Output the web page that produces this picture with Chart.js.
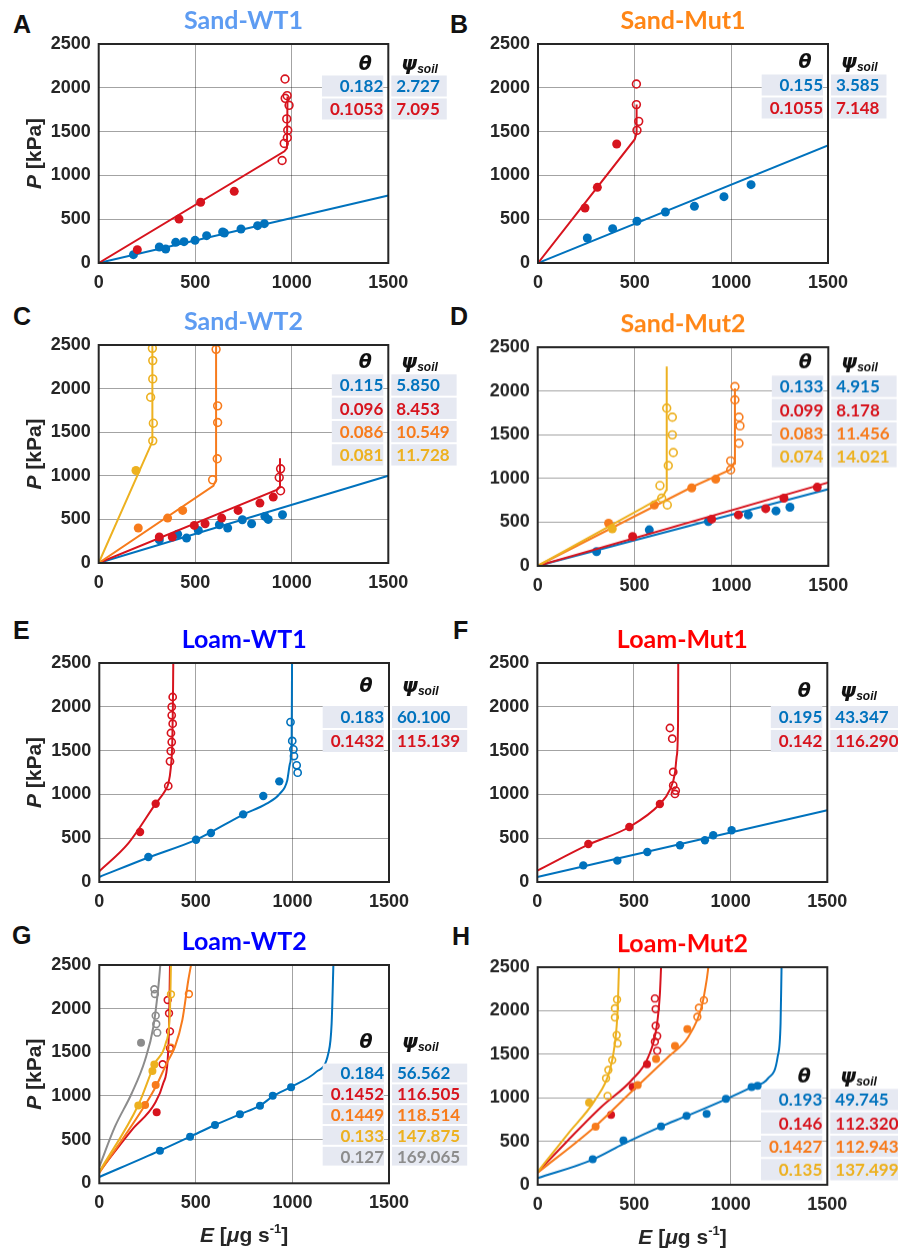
<!DOCTYPE html>
<html>
<head>
<meta charset="utf-8">
<script src="https://cdn.jsdelivr.net/npm/chart.js@4.4.1/dist/chart.umd.min.js"></script>
<style>
  body { margin: 0; background: #fff; width: 898px; height: 1251px; position: relative; overflow: hidden; }
  .panel { position: absolute; }
  .letter { position: absolute; font: bold 25px "Liberation Sans", Arial, sans-serif; color: #111; line-height: 1; }
</style>
</head>
<body>
<div class="letter" style="left:13px;top:12px">A</div>
<div class="letter" style="left:450px;top:12px">B</div>
<div class="letter" style="left:13px;top:304px">C</div>
<div class="letter" style="left:450px;top:304px">D</div>
<div class="letter" style="left:13px;top:618px">E</div>
<div class="letter" style="left:453px;top:618px">F</div>
<div class="letter" style="left:12px;top:923px">G</div>
<div class="letter" style="left:452px;top:924px">H</div>
<script>
// ---- data: [E, P] pairs ----
// A  Sand-WT1
const aBlueDots = [[180,95],[314,183],[347,160],[399,236],[442,244],[499,259],[559,312],[642,354],[651,342],[737,388],[823,426],[858,449]];
const aBlueFit = [[0,0],[1500,770]];
const aRedDots = [[200,152],[416,502],[528,693],[702,818]];
const aRedRings = [[965,2100],[976,1910],[966,1880],[986,1800],[974,1645],[979,1515],[977,1430],[961,1365],[950,1170]];
const aRedFit = [[0,0],[962,1275],[975,1310],[978,1900]];
const aTheta = ["0.182", "0.1053"];
const aPsi = ["2.727", "7.095"];

// B  Sand-Mut1
const bBlueDots = [[255,285],[386,392],[512,476],[659,582],[809,647],[962,757],[1102,894]];
const bBlueFit = [[0,0],[1500,1343]];
const bRedDots = [[243,628],[307,864],[407,1358]];
const bRedRings = [[509,2043],[509,1808],[521,1617],[512,1514]];
const bRedFit = [[0,0],[500,1410],[510,1480],[510,1810]];
const bTheta = ["0.155", "0.1055"];
const bPsi = ["3.585", "7.148"];

// C  Sand-WT2
const cBlueDots = [[314,265],[409,330],[455,286],[516,374],[625,439],[668,401],[744,496],[792,450],[861,534],[878,500],[952,553]];
const cBlueFit = [[0,0],[1500,1000]];
const cRedDots = [[314,298],[381,298],[495,431],[551,450],[637,515],[722,603],[835,687],[904,756]];
const cRedRings = [[942,828],[935,981],[942,1080]];
const cRedFit = [[0,0],[925,840],[938,870],[939,1200]];
const cOrangeDots = [[205,401],[357,515],[435,603]];
const cOrangeRings = [[608,2450],[616,1802],[616,1611],[614,1195],[590,954]];
const cOrangeFit = [[0,0],[594,885],[608,954],[608,2500]];
const cYellowDots = [[193,1061]];
const cYellowRings = [[278,2462],[280,2321],[280,2111],[269,1901],[283,1603],[280,1401]];
const cYellowFit = [[0,0],[278,1393],[278,2500]];
const cTheta = ["0.115", "0.096", "0.086", "0.081"];
const cPsi = ["5.850", "8.453", "10.549", "11.728"];

// D  Sand-Mut2
const dBlueDots = [[304,164],[576,412],[881,507],[1087,583],[1230,629],[1302,671]];
const dBlueFit = [[0,0],[1500,877]];
const dRedDots = [[490,335],[898,534],[1036,583],[1177,655],[1271,774],[1443,899]];
const dRedFit = [[0,0],[1500,953]];
const dOrangeDots = [[366,488],[602,697],[795,892],[919,991]];
const dOrangeRings = [[1018,2050],[1018,1898],[1039,1700],[1044,1601],[1039,1402],[996,1200],[996,1098]];
const dOrangeFit = [[0,0],[795,900],[993,1098],[1015,1170],[1018,2030]];
const dYellowDots = [[385,423]];
const dYellowRings = [[666,1803],[695,1700],[695,1498],[700,1296],[674,1147],[631,918],[640,774],[669,697]];
const dYellowFit = [[0,0],[645,790],[665,870],[666,2280]];
const dTheta = ["0.133", "0.099", "0.083", "0.074"];
const dPsi = ["4.915", "8.178", "11.456", "14.021"];

// E  Loam-WT1
const eBlueDots = [[254,285],[501,483],[578,559],[745,772],[849,982],[932,1149]];
const eBlueRings = [[990,1826],[999,1610],[1005,1514],[1008,1438],[1022,1332],[1027,1248]];
const eBlueFit = [[0,57],[254,280],[500,480],[745,770],[866,894],[935,1009],[973,1160],[987,1350],[996,1620],[998,2500]];
const eRedDots = [[211,571],[292,894]];
const eRedRings = [[357,1096],[366,1377],[370,1495],[375,1598],[371,1701],[380,1807],[375,1903],[375,1998],[380,2112]];
const eRedFit = [[0,122],[150,440],[292,894],[340,1040],[357,1120],[370,1300],[378,1600],[381,2000],[383,2500]];
const eTheta = ["0.183", "0.1432"];
const ePsi = ["60.100", "115.139"];

// F  Loam-Mut1
const fBlueDots = [[238,190],[414,244],[569,342],[738,419],[867,476],[910,533],[1005,590]];
const fBlueFit = [[0,57],[1500,818]];
const fRedDots = [[264,434],[476,628],[634,890]];
const fRedRings = [[686,1758],[698,1636],[703,1256],[703,1103],[716,1043],[712,1005]];
const fRedFit = [[0,129],[264,426],[476,628],[634,890],[686,1054],[712,1244],[721,1434],[728,1815],[729,2500]];
const fTheta = ["0.195", "0.142"];
const fPsi = ["43.347", "116.290"];

// G  Loam-WT2
const gBlueDots = [[314,374],[470,534],[599,668],[728,790],[832,889],[898,1004],[993,1099]];
const gBlueFit = [[0,72],[314,374],[470,534],[599,668],[728,790],[832,889],[901,1000],[996,1107],[1125,1279],[1186,1489],[1203,1832],[1212,2500]];
const gRedDots = [[297,813]];
const gRedRings = [[328,1363],[366,1546],[366,1740],[361,1947],[354,2099]];
const gRedFit = [[0,133],[168,610],[288,916],[331,1145],[354,1412],[361,1793],[366,2500]];
const gOrangeDots = [[237,897],[292,1126]];
const gOrangeRings = [[371,1553],[464,2168]];
const gOrangeFit = [[0,120],[237,897],[297,1126],[349,1374],[392,1565],[430,1870],[461,2328],[475,2500]];
const gYellowDots = [[202,890],[275,1286],[285,1360]];
const gYellowRings = [[371,2164]];
const gYellowFit = [[0,133],[202,897],[288,1374],[344,1603],[366,1985],[371,2500]];
const gGrayDots = [[216,1610]];
const gGrayRings = [[285,2222],[288,2168],[292,1920],[295,1824],[300,1725]];
const gGrayFit = [[0,190],[81,648],[168,1031],[237,1412],[280,1793],[306,2252],[316,2500]];
const gTheta = ["0.184", "0.1452", "0.1449", "0.133", "0.127"];
const gPsi = ["56.562", "116.505", "118.514", "147.875", "169.065"];

// H  Loam-Mut2
const hBlueDots = [[285,295],[444,509],[639,670],[771,793],[875,816],[975,988],[1108,1122],[1139,1137]];
const hBlueFit = [[0,77],[285,290],[444,470],[639,670],[771,790],[975,984],[1108,1122],[1194,1225],[1243,1474],[1258,1857],[1263,2500]];
const hRedDots = [[380,803],[492,1127],[566,1384]];
const hRedRings = [[619,1540],[607,1644],[619,1709],[611,1827],[611,2018],[607,2141]];
const hRedFit = [[0,145],[159,516],[331,898],[487,1204],[573,1471],[616,1815],[633,2198],[639,2500]];
const hOrangeDots = [[300,669],[518,1147],[613,1445],[711,1597],[775,1789]];
const hOrangeRings = [[827,1930],[835,2033],[861,2121]];
const hOrangeFit = [[0,140],[297,669],[504,1109],[677,1471],[780,1700],[849,2045],[875,2351],[884,2500]];
const hYellowDots = [[266,944]];
const hYellowRings = [[362,1021],[354,1223],[366,1319],[386,1433],[414,1625],[409,1720],[400,1923],[400,2027],[411,2129]];
const hYellowFit = [[0,150],[159,593],[297,975],[374,1319],[400,1625],[414,2007],[421,2500]];
const hTheta = ["0.193", "0.146", "0.1427", "0.135"];
const hPsi = ["49.745", "112.320", "112.943", "137.499"];

const xTicks = [0, 500, 1000, 1500];
const yTicks = [0, 500, 1000, 1500, 2000, 2500];

// ---- styles ----
const BLUE = "#0072BD";
const RED = "#D7141E";
const ORANGE = "#F77B1C";
const YELLOW = "#EDB120";
const GRAY = "#8C8C8C";
const INK = "#262626";
const GRID = "rgba(0,0,0,0.36)";
const TABLE_BG = "#E6E9F2";
const TICK_FONT = { family: "'Liberation Sans', Arial, sans-serif", size: 18, weight: "bold" };

// chartArea = [left, top, right, bottom] in page pixels
const panels = [
  { title: "Sand-WT1", titleColor: "#5E9CF2", canvasLeft: 0, area: [98.7, 44.3, 388.3, 263.3], yTitle: true, dotR: 4.5,
    series: [
      { color: RED, fit: aRedFit, dots: aRedDots, rings: aRedRings },
      { color: BLUE, fit: aBlueFit, dots: aBlueDots },
    ],
    table: { theta: aTheta, psi: aPsi, colors: [BLUE, RED], head: 21, row1: 42, rowH: 23 } },
  { title: "Sand-Mut1", titleColor: "#FF8616", canvasLeft: 445, area: [538, 44.3, 828, 263.3], dotR: 4.5,
    series: [
      { color: RED, fit: bRedFit, dots: bRedDots, rings: bRedRings },
      { color: BLUE, fit: bBlueFit, dots: bBlueDots },
    ],
    table: { theta: bTheta, psi: bPsi, colors: [BLUE, RED], head: 19, row1: 41, rowH: 23 } },
  { title: "Sand-WT2", titleColor: "#5E9CF2", canvasLeft: 0, area: [98.7, 345, 388.3, 563.3], yTitle: true, dotR: 4.5,
    series: [
      { color: YELLOW, fit: cYellowFit, dots: cYellowDots, rings: cYellowRings },
      { color: ORANGE, fit: cOrangeFit, dots: cOrangeDots, rings: cOrangeRings },
      { color: RED, fit: cRedFit, dots: cRedDots, rings: cRedRings },
      { color: BLUE, fit: cBlueFit, dots: cBlueDots },
    ],
    table: { theta: cTheta, psi: cPsi, colors: [BLUE, RED, ORANGE, YELLOW], head: 18, row1: 40, rowH: 23.3 } },
  { title: "Sand-Mut2", titleColor: "#FF8616", canvasLeft: 445, area: [537.7, 347.3, 828.3, 566], dotR: 4.5,
    series: [
      { color: YELLOW, fit: dYellowFit, dots: dYellowDots, rings: dYellowRings },
      { color: ORANGE, fit: dOrangeFit, dots: dOrangeDots, rings: dOrangeRings },
      { color: RED, fit: dRedFit, dots: dRedDots },
      { color: BLUE, fit: dBlueFit, dots: dBlueDots },
    ],
    table: { theta: dTheta, psi: dPsi, colors: [BLUE, RED, ORANGE, YELLOW], head: 16, row1: 39, rowH: 23.3 } },
  { title: "Loam-WT1", titleColor: "#0000FF", canvasLeft: 0, area: [99.3, 662.7, 389, 881.7], yTitle: true, dotR: 4.2,
    series: [
      { color: RED, fit: eRedFit, dots: eRedDots, rings: eRedRings, smooth: true },
      { color: BLUE, fit: eBlueFit, dots: eBlueDots, rings: eBlueRings, smooth: true },
    ],
    table: { theta: eTheta, psi: ePsi, colors: [BLUE, RED], head: 24, row1: 54, rowH: 24 } },
  { title: "Loam-Mut1", titleColor: "#FF0000", canvasLeft: 445, area: [537.3, 663.3, 827.3, 882.3], dotR: 4.2,
    series: [
      { color: RED, fit: fRedFit, dots: fRedDots, rings: fRedRings, smooth: true },
      { color: BLUE, fit: fBlueFit, dots: fBlueDots },
    ],
    table: { theta: fTheta, psi: fPsi, colors: [BLUE, RED], head: 29, row1: 54, rowH: 24 } },
  { title: "Loam-WT2", titleColor: "#0000FF", canvasLeft: 0, area: [99.3, 965, 389, 1183.3], yTitle: true, xTitle: true, dotR: 4,
    series: [
      { color: GRAY, fit: gGrayFit, dots: gGrayDots, rings: gGrayRings, smooth: true },
      { color: YELLOW, fit: gYellowFit, dots: gYellowDots, rings: gYellowRings, smooth: true },
      { color: ORANGE, fit: gOrangeFit, dots: gOrangeDots, rings: gOrangeRings, smooth: true },
      { color: RED, fit: gRedFit, dots: gRedDots, rings: gRedRings, smooth: true },
      { color: BLUE, fit: gBlueFit, dots: gBlueDots, smooth: true },
    ],
    table: { theta: gTheta, psi: gPsi, colors: [BLUE, RED, ORANGE, YELLOW, GRAY], head: 78, row1: 108, rowH: 20.8 } },
  { title: "Loam-Mut2", titleColor: "#FF0000", canvasLeft: 445, area: [537.7, 967.3, 827.3, 1185], xTitle: true, dotR: 4,
    series: [
      { color: YELLOW, fit: hYellowFit, dots: hYellowDots, rings: hYellowRings, smooth: true },
      { color: ORANGE, fit: hOrangeFit, dots: hOrangeDots, rings: hOrangeRings, smooth: true },
      { color: RED, fit: hRedFit, dots: hRedDots, rings: hRedRings, smooth: true },
      { color: BLUE, fit: hBlueFit, dots: hBlueDots, smooth: true },
    ],
    table: { theta: hTheta, psi: hPsi, colors: [BLUE, RED, ORANGE, YELLOW], head: 110, row1: 132, rowH: 23.3 } },
];

const toXY = (pts) => pts.map(([x, y]) => ({ x, y }));

function buildDatasets(p) {
  const sets = [];
  p.series.forEach((s) => {
    sets.push({
      data: toXY(s.fit), showLine: true, borderColor: s.color, borderWidth: 2,
      pointRadius: 0, tension: 0, cubicInterpolationMode: s.smooth ? "monotone" : "default",
    });
    if (s.rings) sets.push({
      data: toXY(s.rings), showLine: false, pointRadius: p.dotR - 0.6, pointBorderWidth: 1.6,
      pointBorderColor: s.color, pointBackgroundColor: "rgba(0,0,0,0)",
    });
    if (s.dots) sets.push({
      data: toXY(s.dots), showLine: false, pointRadius: p.dotR, pointBorderWidth: 0,
      pointBackgroundColor: s.color,
    });
  });
  return sets;
}

function drawTable(ctx, a, t) {
  ctx.font = "bold 17px Lato, 'Open Sans', sans-serif";
  ctx.textBaseline = "middle";
  const w1 = Math.max(...t.theta.map((s) => ctx.measureText(s).width)) + 8;
  const w2 = Math.max(...t.psi.map((s) => ctx.measureText(s).width)) + 12;
  const x1r = a.right - 5;
  const x2l = a.right + 3;
  t.theta.forEach((th, i) => {
    const cy = a.top + t.row1 + i * t.rowH;
    ctx.fillStyle = TABLE_BG;
    ctx.fillRect(x1r - w1, cy - t.rowH / 2 + 1, w1, t.rowH - 2);
    ctx.fillRect(x2l, cy - t.rowH / 2 + 1, w2, t.rowH - 2);
    ctx.fillStyle = t.colors[i];
    ctx.textAlign = "right";
    ctx.fillText(th, x1r, cy + 1);
    ctx.textAlign = "left";
    ctx.fillText(t.psi[i], x2l + 5, cy + 1);
  });
  // headers
  const hy = a.top + t.head;
  ctx.fillStyle = "#111";
  ctx.textAlign = "center";
  ctx.font = "italic bold 19px 'DejaVu Sans', sans-serif";
  ctx.fillText("θ", x1r - 18, hy);
  ctx.textAlign = "left";
  ctx.font = "italic bold 20px 'DejaVu Sans', sans-serif";
  ctx.fillText("ψ", x2l + 10, hy);
  const pw = ctx.measureText("ψ").width;
  ctx.font = "italic bold 12px 'Liberation Sans', Arial, sans-serif";
  ctx.fillText("soil", x2l + 10 + pw, hy + 5);
}

function drawParts(ctx, x, y, parts) {
  // parts: [text, font, dy]
  let total = 0;
  parts.forEach((q) => { ctx.font = q[1]; total += ctx.measureText(q[0]).width; });
  let cx = x - total / 2;
  ctx.textAlign = "left";
  parts.forEach((q) => {
    ctx.font = q[1];
    ctx.fillText(q[0], cx, y + (q[2] || 0));
    cx += ctx.measureText(q[0]).width;
  });
}

function makePanel(p) {
  const [l, t, r, b] = p.area;
  const width = p.canvasLeft === 0 ? 470 : 453;
  const top = t - 60;
  const height = p.xTitle ? 1251 - top : (b - t) + 100;
  const yAxisW = l - p.canvasLeft;
  const xAxisH = height - (b - top);

  const wrap = document.createElement("div");
  wrap.className = "panel";
  wrap.style.left = p.canvasLeft + "px";
  wrap.style.top = top + "px";
  const canvas = document.createElement("canvas");
  canvas.width = width;
  canvas.height = height;
  canvas.style.width = width + "px";
  canvas.style.height = height + "px";
  wrap.appendChild(canvas);
  document.body.appendChild(wrap);

  const decor = {
    id: "decor",
    afterDraw(chart) {
      const { ctx, chartArea: a } = chart;
      ctx.save();
      drawTable(ctx, a, p.table);
      ctx.strokeStyle = INK;
      ctx.lineWidth = 2;
      ctx.strokeRect(a.left, a.top, a.right - a.left, a.bottom - a.top);
      ctx.fillStyle = INK;
      ctx.textBaseline = "middle";
      const bold = "bold 21px 'Liberation Sans', Arial, sans-serif";
      const ital = "italic bold 21px 'Liberation Sans', Arial, sans-serif";
      if (p.yTitle) {
        ctx.save();
        ctx.translate(35.5, (a.top + a.bottom) / 2);
        ctx.rotate(-Math.PI / 2);
        drawParts(ctx, 0, 0, [["P", ital], [" [kPa]", bold]]);
        ctx.restore();
      }
      if (p.xTitle) {
        drawParts(ctx, (a.left + a.right) / 2, a.bottom + 53, [
          ["E", ital], [" [", bold], ["μ", ital],
          ["g s", bold], ["-1", "bold 13px 'Liberation Sans', Arial, sans-serif", -7], ["]", bold],
        ]);
      }
      ctx.restore();
    },
  };

  new Chart(canvas, {
    type: "scatter",
    data: { datasets: buildDatasets(p) },
    options: {
      responsive: false,
      animation: false,
      layout: { padding: { top: 21.6, left: 0, right: width - (r - p.canvasLeft), bottom: 0 } },
      plugins: {
        legend: { display: false },
        tooltip: { enabled: false },
        title: {
          display: true, text: p.title, color: p.titleColor, fullSize: false,
          font: { family: "Lato, 'Open Sans', sans-serif", size: 25, weight: "bold" },
          padding: { top: 0, bottom: 8.4 },
        },
      },
      scales: {
        x: {
          type: "linear", min: 0, max: 1500,
          afterBuildTicks: (s) => { s.ticks = xTicks.map((v) => ({ value: v })); },
          ticks: { color: INK, font: TICK_FONT, padding: 9, maxRotation: 0, callback: (v) => String(v) },
          grid: { color: GRID, lineWidth: 1, drawTicks: false },
          border: { display: false },
          afterFit: (s) => { s.height = xAxisH; s.paddingLeft = 0; s.paddingRight = 0; },
        },
        y: {
          type: "linear", min: 0, max: 2500,
          afterBuildTicks: (s) => { s.ticks = yTicks.map((v) => ({ value: v })); },
          ticks: { color: INK, font: TICK_FONT, padding: 8, callback: (v) => String(v) },
          grid: { color: GRID, lineWidth: 1, drawTicks: false },
          border: { display: false },
          afterFit: (s) => { s.width = yAxisW; s.paddingTop = 0; s.paddingBottom = 0; },
        },
      },
    },
    plugins: [decor],
  });
}

panels.forEach(makePanel);
</script>
</body>
</html>
